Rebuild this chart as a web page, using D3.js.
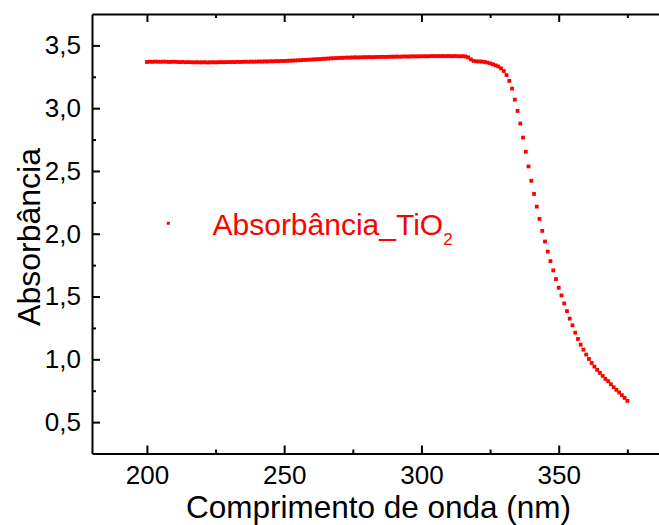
<!DOCTYPE html>
<html>
<head>
<meta charset="utf-8">
<script src="https://cdn.jsdelivr.net/npm/d3@7"></script>
<style>
  html, body { margin: 0; padding: 0; background: #fff; }
  svg { display: block; font-family: "Liberation Sans", Arial, sans-serif; }
</style>
</head>
<body>
<svg id="chart" width="659" height="525"></svg>
<script>
// ---- data ----
const wavelengthStart = 200;
const absorbance = [
  3.368, 3.370, 3.369, 3.371, 3.370, 3.369, 3.371, 3.370, 3.368, 3.369,
  3.370, 3.368, 3.367, 3.368, 3.366, 3.367, 3.366, 3.365, 3.366, 3.365,
  3.365, 3.366, 3.364, 3.365, 3.366, 3.365, 3.366, 3.367, 3.366, 3.367,
  3.367, 3.368, 3.367, 3.369, 3.368, 3.369, 3.370, 3.369, 3.371, 3.370,
  3.371, 3.372, 3.371, 3.373, 3.372, 3.374, 3.373, 3.375, 3.374, 3.376,
  3.376, 3.377, 3.378, 3.379, 3.380, 3.381, 3.382, 3.384, 3.385, 3.386,
  3.387, 3.389, 3.390, 3.391, 3.393, 3.394, 3.395, 3.397, 3.398, 3.399,
  3.400, 3.401, 3.402, 3.403, 3.403, 3.404, 3.405, 3.404, 3.405, 3.406,
  3.406, 3.407, 3.406, 3.407, 3.408, 3.408, 3.409, 3.408, 3.409, 3.410,
  3.410, 3.411, 3.410, 3.411, 3.412, 3.411, 3.412, 3.413, 3.412, 3.413,
  3.413, 3.414, 3.413, 3.414, 3.415, 3.414, 3.415, 3.414, 3.415, 3.414,
  3.415, 3.414, 3.415, 3.414, 3.413, 3.414, 3.412, 3.405, 3.389, 3.376,
  3.373, 3.372, 3.371, 3.368, 3.363, 3.357, 3.350, 3.341, 3.332, 3.317,
  3.296, 3.264, 3.217, 3.156, 3.068, 2.978, 2.878, 2.766, 2.653, 2.536,
  2.422, 2.317, 2.216, 2.118, 2.023, 1.938, 1.858, 1.782, 1.708, 1.639,
  1.570, 1.509, 1.445, 1.384, 1.324, 1.271, 1.212, 1.162, 1.117, 1.077,
  1.038, 1.003, 0.971, 0.942, 0.916, 0.892, 0.868, 0.844, 0.826, 0.802,
  0.778, 0.757, 0.736, 0.715, 0.693, 0.669
];
const wavelengths = absorbance.map((_, i) => wavelengthStart + i);

const xMajorTicks = [200, 250, 300, 350];
const xMinorTicks = [225, 275, 325, 375];
const yMajorTicks = [0.5, 1.0, 1.5, 2.0, 2.5, 3.0, 3.5];
const yMinorTicks = [0.75, 1.25, 1.75, 2.25, 2.75, 3.25];

const xTitle = "Comprimento de onda (nm)";
const yTitle = "Absorbância";
const legendMain = "Absorbância_TiO";
const legendSub = "2";

// ---- layout ----
(function () {
const svg = d3.select("#chart");
const pLeft = 92, pRight = 696, pTop = 14, pBottom = 453.5;
const red = "#ff0000";

const x = d3.scaleLinear().domain([180, 400]).range([pLeft, pRight]);
const y = d3.scaleLinear().domain([0.25, 3.75]).range([pBottom, pTop]);

const locale = d3.formatLocale({decimal: ",", thousands: ".", grouping: [3], currency: ["", ""]});
const fy = locale.format(".1f");

function styleAxis(g) {
  g.selectAll("path.domain").attr("stroke", "#000").attr("stroke-width", 2);
  g.selectAll(".tick line").attr("stroke", "#000").attr("stroke-width", 2);
  g.selectAll(".tick text").attr("fill", "#000").style("font-size", "26px")
    .style("font-family", '"Liberation Sans", Arial, sans-serif');
}

// bottom axis (major)
const gx = svg.append("g").attr("transform", `translate(0,${pBottom})`)
  .call(d3.axisBottom(x).tickValues(xMajorTicks).tickSize(-8).tickSizeOuter(0).tickPadding(12).tickFormat(d3.format("d")));
styleAxis(gx);
// bottom minor
const gxm = svg.append("g").attr("transform", `translate(0,${pBottom})`)
  .call(d3.axisBottom(x).tickValues(xMinorTicks).tickSize(-4).tickFormat(""));
gxm.select("path.domain").remove();
styleAxis(gxm);

// top axis
const gt = svg.append("g").attr("transform", `translate(0,${pTop})`)
  .call(d3.axisTop(x).tickValues(xMajorTicks).tickSize(-8).tickSizeOuter(0).tickFormat(""));
styleAxis(gt);
const gtm = svg.append("g").attr("transform", `translate(0,${pTop})`)
  .call(d3.axisTop(x).tickValues(xMinorTicks).tickSize(-4).tickFormat(""));
gtm.select("path.domain").remove();
styleAxis(gtm);

// left axis
const gy = svg.append("g").attr("transform", `translate(${pLeft},0)`)
  .call(d3.axisLeft(y).tickValues(yMajorTicks).tickSize(-8).tickSizeOuter(0).tickPadding(11).tickFormat(fy));
styleAxis(gy);
const gym = svg.append("g").attr("transform", `translate(${pLeft},0)`)
  .call(d3.axisLeft(y).tickValues(yMinorTicks).tickSize(-4).tickFormat(""));
gym.select("path.domain").remove();
styleAxis(gym);

// data points
const ms = 3.8;
svg.append("g").selectAll("rect")
  .data(wavelengths.map((w, i) => [w, absorbance[i]]))
  .join("rect")
  .attr("x", d => x(d[0]) - ms / 2)
  .attr("y", d => y(d[1]) - ms / 2)
  .attr("width", ms).attr("height", ms)
  .attr("fill", red);

// axis titles
svg.append("text")
  .attr("x", 378.5).attr("y", 518)
  .attr("text-anchor", "middle")
  .style("font-size", "31.5px").attr("fill", "#000")
  .text(xTitle);

svg.append("text")
  .attr("transform", "translate(40,237) rotate(-90)")
  .attr("text-anchor", "middle")
  .style("font-size", "32px").attr("fill", "#000")
  .text(yTitle);

// legend
svg.append("rect")
  .attr("x", 166.8).attr("y", 221.8).attr("width", 3).attr("height", 3)
  .attr("fill", red);
const lt = svg.append("text")
  .attr("x", 212.5).attr("y", 234.5)
  .style("font-size", "30px").attr("fill", red);
lt.append("tspan").text(legendMain);
lt.append("tspan").attr("dy", 10).style("font-size", "17px").text(legendSub);
})();
</script>
</body>
</html>
